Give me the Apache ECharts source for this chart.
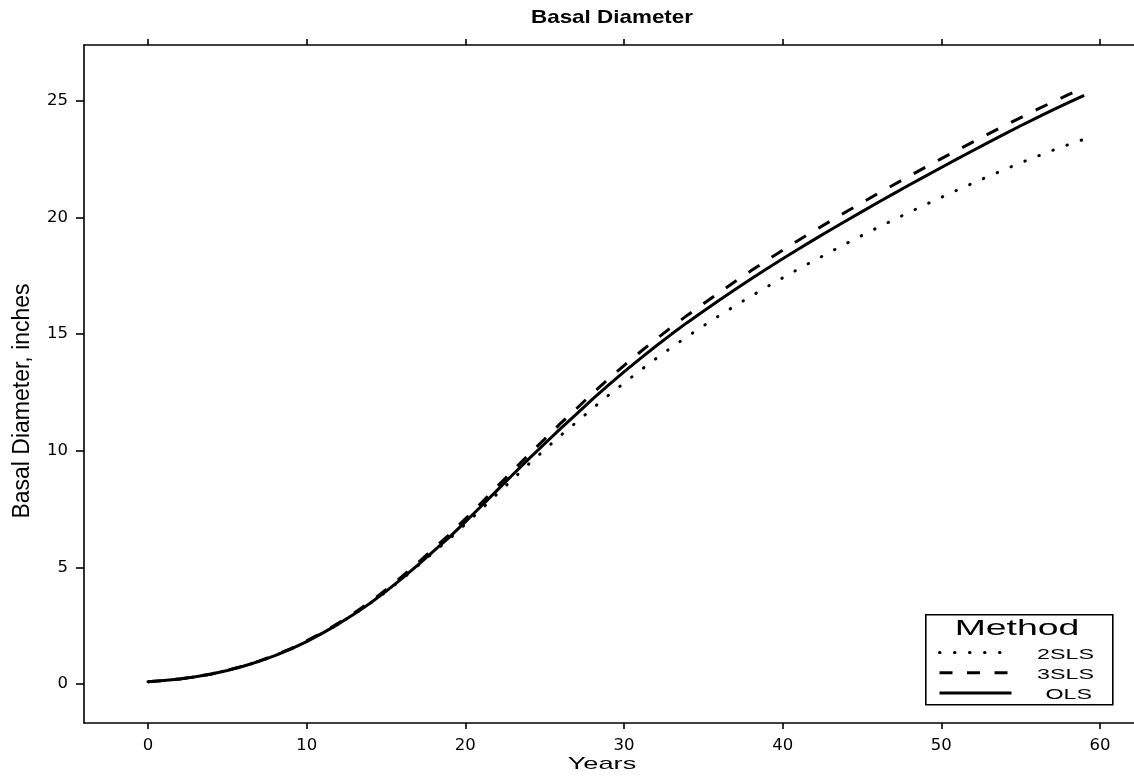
<!DOCTYPE html>
<html>
<head>
<meta charset="utf-8">
<script src="https://cdn.jsdelivr.net/npm/echarts@6/dist/echarts.min.js"></script>
<style>
html,body{margin:0;padding:0;background:#fff;}
#chart{width:1134px;height:776px;}
</style>
</head>
<body>
<div id="chart"></div>
<script>
const years = [0,1,2,3,4,5,6,7,8,9,10,11,12,13,14,15,16,17,18,19,20,21,22,23,24,25,26,27,28,29,30,31,32,33,34,35,36,37,38,39,40,41,42,43,44,45,46,47,48,49,50,51,52,53,54,55,56,57,58,59];
const ols = [0.10,0.15,0.22,0.31,0.43,0.58,0.76,0.97,1.22,1.50,1.82,2.18,2.57,3.00,3.46,3.97,4.52,5.10,5.70,6.30,6.95,7.62,8.30,8.98,9.65,10.30,10.95,11.57,12.20,12.80,13.38,13.94,14.48,15.00,15.50,15.98,16.45,16.91,17.36,17.80,18.23,18.65,19.06,19.46,19.86,20.25,20.64,21.02,21.40,21.77,22.14,22.51,22.87,23.23,23.58,23.93,24.27,24.60,24.92,25.23];
const sls3 = [0.10,0.15,0.22,0.31,0.43,0.59,0.77,0.98,1.24,1.52,1.85,2.21,2.61,3.05,3.52,4.04,4.60,5.19,5.80,6.41,7.08,7.76,8.46,9.15,9.84,10.50,11.17,11.80,12.45,13.06,13.65,14.22,14.77,15.30,15.81,16.30,16.78,17.25,17.71,18.16,18.59,19.02,19.43,19.84,20.24,20.63,21.02,21.40,21.78,22.15,22.52,22.88,23.24,23.59,23.94,24.28,24.62,24.94,25.26,25.56];
const sls2 = [0.10,0.15,0.22,0.31,0.43,0.58,0.76,0.97,1.22,1.50,1.82,2.18,2.57,3.00,3.46,3.95,4.49,5.06,5.64,6.22,6.85,7.49,8.14,8.79,9.43,10.04,10.65,11.22,11.80,12.36,12.90,13.43,13.94,14.43,14.90,15.35,15.79,16.21,16.62,17.02,17.41,17.79,18.16,18.52,18.88,19.23,19.57,19.90,20.23,20.55,20.86,21.17,21.47,21.77,22.06,22.34,22.61,22.87,23.12,23.35];
const xTicks = [0,10,20,30,40,50,60];
const yTicks = [0,5,10,15,20,25];
const seriesNames = ['2SLS','3SLS','OLS'];
const legendTitle = 'Method';
const titleText = 'Basal Diameter';
const xName = 'Years';
const yName = 'Basal Diameter, inches';

const pair = (ys) => years.map((x,i)=>[x, ys[i]]);
const font = '"Liberation Sans", Arial, sans-serif';
const tickFont = '"DejaVu Sans", sans-serif';

const chart = echarts.init(document.getElementById('chart'), null, {renderer:'canvas'});
const axisLineStyle = {color:'#000', width:1.6};
chart.setOption({
  animation:false,
  backgroundColor:'#fff',
  grid:{left:84, right:0, top:45, bottom:53},
  xAxis:[{
    type:'value', min:-4.03, max:62.14, position:'bottom',
    axisLine:{show:true, onZero:false, lineStyle:axisLineStyle},
    axisTick:{show:true, inside:false, length:6, customValues:xTicks, lineStyle:axisLineStyle},
    axisLabel:{show:true, customValues:xTicks, margin:14, fontFamily:tickFont, fontSize:16.5, color:'#000'},
    splitLine:{show:false}
  },{
    type:'value', min:-4.03, max:62.14, position:'top',
    axisLine:{show:true, onZero:false, lineStyle:axisLineStyle},
    axisTick:{show:true, inside:false, length:6, customValues:xTicks, lineStyle:axisLineStyle},
    axisLabel:{show:false},
    splitLine:{show:false}
  }],
  yAxis:{
    type:'value', min:-1.67, max:27.39,
    axisLine:{show:true, onZero:false, lineStyle:axisLineStyle},
    axisTick:{show:true, inside:false, length:8, customValues:yTicks, lineStyle:axisLineStyle},
    axisLabel:{show:true, customValues:yTicks, margin:16, fontFamily:tickFont, fontSize:16.5, color:'#000'},
    splitLine:{show:false}
  },
  legend:{
    orient:'vertical', left:938, top:647, padding:0,
    itemWidth:72, itemHeight:14, itemGap:9,
    data:seriesNames,
    formatter:()=>'',
    itemStyle:{opacity:0},
    lineStyle:{width:3},
    textStyle:{fontSize:10, lineHeight:14, padding:0}
  },
  graphic:[
    {type:'rect', left:925, top:614, shape:{width:187, height:90}, style:{fill:'#fff', stroke:'#000', lineWidth:1.6}, z:0},
    {type:'text', x:1017, y:629, scaleX:1.7, style:{text:legendTitle, font:'22px '+font, fill:'#000', align:'center', verticalAlign:'middle'}, z:10},
    {type:'text', x:1094, y:655, scaleX:1.55, style:{text:seriesNames[0], font:'15px '+font, fill:'#000', align:'right', verticalAlign:'middle'}, z:10},
    {type:'text', x:1094, y:674.5, scaleX:1.55, style:{text:seriesNames[1], font:'15px '+font, fill:'#000', align:'right', verticalAlign:'middle'}, z:10},
    {type:'text', x:1092, y:694.5, scaleX:1.55, style:{text:seriesNames[2], font:'15px '+font, fill:'#000', align:'right', verticalAlign:'middle'}, z:10},
    {type:'text', x:612, y:18, scaleX:1.18, style:{text:titleText, font:'bold 19px '+font, fill:'#000', align:'center', verticalAlign:'middle'}},
    {type:'text', x:602, y:764, scaleX:1.6, style:{text:xName, font:'17px '+font, fill:'#000', align:'center', verticalAlign:'middle'}},
    {type:'text', x:23, y:401, rotation:Math.PI/2, style:{text:yName, font:'23px '+font, fill:'#000', align:'center', verticalAlign:'middle'}}
  ],
  series:[
    {name:'2SLS', type:'line', data:pair(sls2), showSymbol:false, symbol:'none', z:5,
     lineStyle:{color:'#000', width:3, type:[0.5,14.5], cap:'round'}, itemStyle:{color:'#000'}},
    {name:'3SLS', type:'line', data:pair(sls3), showSymbol:false, symbol:'none', z:5,
     lineStyle:{color:'#000', width:3, type:[13,14.5], cap:'butt'}, itemStyle:{color:'#000'}},
    {name:'OLS', type:'line', data:pair(ols), showSymbol:false, symbol:'none', z:5,
     lineStyle:{color:'#000', width:3, type:'solid'}, itemStyle:{color:'#000'}}
  ]
});
</script>
</body>
</html>
